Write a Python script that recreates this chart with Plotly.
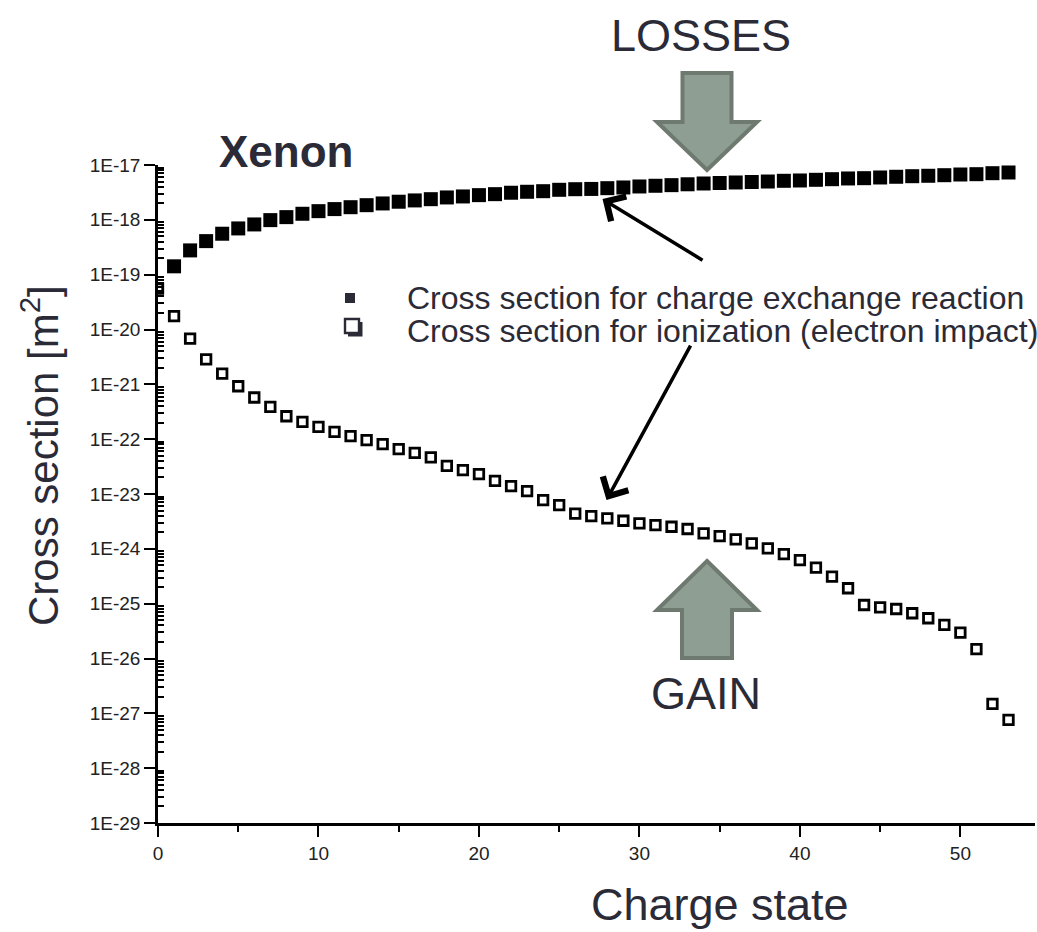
import plotly.graph_objects as go

# ---------------- data ----------------
charge_cx = list(range(1, 54))
sigma_cx = [1.42e-19, 2.77e-19, 4.09e-19, 5.58e-19, 6.97e-19, 8.24e-19, 9.88e-19, 1.12e-18,
            1.29e-18, 1.44e-18, 1.57e-18, 1.70e-18, 1.85e-18, 1.99e-18, 2.14e-18, 2.26e-18,
            2.38e-18, 2.56e-18, 2.67e-18, 2.82e-18, 2.94e-18, 3.12e-18, 3.25e-18, 3.33e-18,
            3.53e-18, 3.62e-18, 3.66e-18, 3.78e-18, 3.89e-18, 4.06e-18, 4.18e-18, 4.29e-18,
            4.45e-18, 4.60e-18, 4.70e-18, 4.80e-18, 4.90e-18, 5.00e-18, 5.15e-18, 5.22e-18,
            5.37e-18, 5.51e-18, 5.68e-18, 5.75e-18, 5.92e-18, 6.10e-18, 6.25e-18, 6.36e-18,
            6.52e-18, 6.71e-18, 6.80e-18, 7.09e-18, 7.30e-18]

charge_ion = list(range(0, 54))
sigma_ion = [5.56e-20, 1.76e-20, 6.83e-21, 2.86e-21, 1.57e-21, 9.23e-22, 5.75e-22, 3.88e-22,
             2.62e-22, 2.07e-22, 1.67e-22, 1.36e-22, 1.14e-22, 9.60e-23, 8.11e-23, 6.58e-23,
             5.63e-23, 4.65e-23, 3.27e-23, 2.72e-23, 2.30e-23, 1.74e-23, 1.39e-23, 1.13e-23,
             7.74e-24, 6.28e-24, 4.40e-24, 3.96e-24, 3.59e-24, 3.25e-24, 2.91e-24, 2.71e-24,
             2.53e-24, 2.30e-24, 1.91e-24, 1.71e-24, 1.49e-24, 1.26e-24, 1.02e-24, 8.04e-25,
             6.25e-25, 4.53e-25, 3.10e-25, 1.91e-25, 9.46e-26, 8.59e-26, 8.00e-26, 6.68e-26,
             5.42e-26, 4.09e-26, 2.96e-26, 1.48e-26, 1.49e-27, 7.62e-28]

x_tick_vals = [0, 10, 20, 30, 40, 50]
x_minor_vals = [5, 15, 25, 35, 45]
y_tick_vals = [1e-29, 1e-28, 1e-27, 1e-26, 1e-25, 1e-24, 1e-23, 1e-22, 1e-21,
               1e-20, 1e-19, 1e-18, 1e-17]
y_tick_text = ["1E-29", "1E-28", "1E-27", "1E-26", "1E-25", "1E-24", "1E-23",
               "1E-22", "1E-21", "1E-20", "1E-19", "1E-18", "1E-17"]
y_minor_vals = [k * v for v in y_tick_vals[:-1] for k in range(2, 10)]

name_cx = "Cross section for charge exchange reaction"
name_ion = "Cross section for ionization (electron impact)"

# ---------------- layout geometry ----------------
W, H = 1037, 932
L, R, T, B = 158, 2, 165, 109
PW, PH = W - L - R, H - T - B

def px(x):
    return (x - L) / PW

def py(y):
    return (H - B - y) / PH

TXT = "#2b2b38"
FONT = "Liberation Sans, Arial, sans-serif"
ARROW_FILL = "#8f9e93"
ARROW_EDGE = "#6e7a70"

fig = go.Figure()
fig.add_trace(go.Scatter(
    x=charge_cx, y=sigma_cx, mode="markers", name=name_cx,
    marker=dict(symbol="square", size=14, color="black", line=dict(width=0)),
))
fig.add_trace(go.Scatter(
    x=charge_ion, y=sigma_ion, mode="markers", name=name_ion,
    marker=dict(symbol="square-open", size=9.5, color="black", line=dict(width=2.8, color="black")),
))

def ppath(pts, **kw):
    path = "M " + " L ".join(f"{px(a):.5f},{py(b):.5f}" for a, b in pts) + " Z"
    return dict(type="path", xref="paper", yref="paper", path=path, **kw)

def block_arrow(tip_x, tip_y, base_y, end_y, half_head, half_shaft):
    pts = [(tip_x, tip_y), (tip_x + half_head, base_y), (tip_x + half_shaft, base_y),
           (tip_x + half_shaft, end_y), (tip_x - half_shaft, end_y), (tip_x - half_shaft, base_y),
           (tip_x - half_head, base_y)]
    return ppath(pts, fillcolor=ARROW_FILL, line=dict(color=ARROW_EDGE, width=4), layer="below")

shapes = [
    block_arrow(707, 170, 122, 73, 50, 24.5),   # LOSSES (down)
    block_arrow(707, 561, 610, 658, 50, 25),    # GAIN (up)
    # legend symbol: filled square
    ppath([(345, 293), (355, 293), (355, 303), (345, 303)], fillcolor=TXT, line=dict(width=0)),
    # legend symbol: shadowed open square (outline + L-shaped shadow)
    ppath([(345, 319), (359, 319), (359, 333), (345, 333)],
          fillcolor="rgba(0,0,0,0)", line=dict(color=TXT, width=2.4)),
    ppath([(360, 322), (362.5, 322), (362.5, 336.5), (348, 336.5), (348, 334), (360, 334)],
          fillcolor=TXT, line=dict(width=0)),
]

annotations = [
    dict(text="LOSSES", x=px(701), y=py(36), xref="paper", yref="paper", showarrow=False,
         xanchor="center", yanchor="middle", font=dict(size=45, color=TXT, family=FONT)),
    dict(text="GAIN", x=px(706), y=py(693), xref="paper", yref="paper", showarrow=False,
         xanchor="center", yanchor="middle", font=dict(size=45, color=TXT, family=FONT)),
    dict(text="<b>Xenon</b>", x=px(286), y=py(152), xref="paper", yref="paper", showarrow=False,
         xanchor="center", yanchor="middle", font=dict(size=44, color=TXT, family=FONT)),
    dict(text="Cross section [m<sup>2</sup>]", x=px(40), y=py(456), xref="paper", yref="paper",
         showarrow=False, textangle=-90, xanchor="center", yanchor="middle",
         font=dict(size=42, color=TXT, family=FONT)),
    dict(text="Charge state", x=px(720), y=py(904), xref="paper", yref="paper", showarrow=False,
         xanchor="center", yanchor="middle", font=dict(size=45, color=TXT, family=FONT)),
    # legend
    dict(text=name_cx, x=px(405), y=py(298), xref="paper", yref="paper", showarrow=False,
         xanchor="left", yanchor="middle", font=dict(size=32, color=TXT, family=FONT)),
    dict(text=name_ion, x=px(405), y=py(331), xref="paper", yref="paper", showarrow=False,
         xanchor="left", yanchor="middle", font=dict(size=32, color=TXT, family=FONT)),
    # pointer arrows
    dict(x=27.7, y=-17.62, xref="x", yref="y", ax=103, ay=63, text=" ", showarrow=True,
         arrowhead=4, arrowsize=1.6, arrowwidth=3.5, arrowcolor="black"),
    dict(x=27.95, y=-23.11, xref="x", yref="y", ax=87, ay=-160, text=" ", showarrow=True,
         arrowhead=4, arrowsize=1.6, arrowwidth=3.5, arrowcolor="black"),
]

fig.update_layout(
    width=W, height=H,
    margin=dict(l=L, r=R, t=T, b=B),
    paper_bgcolor="white", plot_bgcolor="white",
    showlegend=False,
    shapes=shapes, annotations=annotations,
    xaxis=dict(range=[0, 54.65], showgrid=False, zeroline=False,
               showline=True, linecolor="black", linewidth=2.5,
               ticks="outside", ticklen=11, tickwidth=2, tickcolor="black",
               tickmode="array", tickvals=x_tick_vals,
               tickfont=dict(size=19, color="#222", family=FONT),
               minor=dict(tickmode="array", tickvals=x_minor_vals, ticks="outside",
                          ticklen=6, tickwidth=2, tickcolor="black", showgrid=False)),
    yaxis=dict(type="log", range=[-29, -17], showgrid=False, zeroline=False,
               showline=True, linecolor="black", linewidth=2.5,
               ticks="outside", ticklen=11, tickwidth=2, tickcolor="black",
               tickmode="array", tickvals=y_tick_vals, ticktext=y_tick_text,
               tickfont=dict(size=19, color="#222", family=FONT),
               minor=dict(tickmode="array", tickvals=y_minor_vals, ticks="inside",
                          ticklen=6, tickwidth=1.5, tickcolor="black", showgrid=False)),
)

fig.write_html("out.html", config={"displayModeBar": False},
               post_script="document.body.style.margin='0px';document.body.style.overflow='hidden';")
